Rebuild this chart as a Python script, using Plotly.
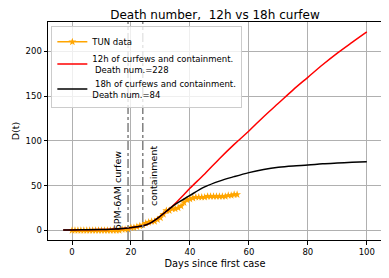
import plotly.graph_objects as go

# TUN observed deaths
tun_days = list(range(0, 57))
tun_deaths = [0]*17 + [1, 1, 1, 3, 3, 4, 5, 6, 8, 9, 10, 10, 12, 14, 18, 22, 22, 24, 24,
                       25, 27, 31, 34, 35, 36, 37, 37, 37, 37, 38, 38, 38, 38, 38, 38, 38,
                       39, 39, 40, 40]

# model curves
model_days = [-3, 0, 5, 10, 15, 19, 22, 25, 27, 30, 33, 35, 38, 40, 45, 50, 55, 60,
              65, 70, 75, 80, 85, 90, 95, 100]
d12 = [0.3, 0.4, 0.6, 0.9, 1.5, 2.5, 4, 6, 9, 16, 24, 30, 40, 47, 63, 80, 96, 111,
       127, 142, 157, 171, 185, 198, 210, 221.7]
d18 = [0.3, 0.4, 0.6, 0.9, 1.5, 2.5, 4, 6, 9, 16, 24, 29, 35, 39, 48.5, 55, 60, 64.5,
       68, 70.5, 72, 73, 74.3, 75.2, 76, 76.6]

curfew_day = 19
containment_day = 24

x_ticks = [0, 20, 40, 60, 80, 100]
y_ticks = [0, 50, 100, 150, 200]

font = "DejaVu Sans"
fig = go.Figure()
fig.add_trace(go.Scatter(x=tun_days, y=tun_deaths, mode="lines+markers", name="TUN data",
                         line=dict(color="orange", width=1.5),
                         marker=dict(symbol="star", size=6, color="orange")))
fig.add_trace(go.Scatter(x=model_days, y=d12, mode="lines", line_shape="spline",
                         name="12h of curfews and containment.<br>\u00a0Death num.=228",
                         line=dict(color="red", width=1.5)))
fig.add_trace(go.Scatter(x=model_days, y=d18, mode="lines", line_shape="spline",
                         name="\u00a018h of curfews and containment.<br>Death num.=84",
                         line=dict(color="black", width=1.5)))

for xv in [curfew_day, containment_day]:
    fig.add_shape(type="line", x0=xv, x1=xv, y0=0, y1=1, xref="x", yref="paper",
                  line=dict(color="gray", width=1.5, dash="dashdot"))

fig.add_annotation(x=15.3, y=-2.5, text="6PM-6AM curfew", textangle=-90, showarrow=False,
                   xanchor="center", yanchor="bottom", font=dict(size=9.5, color="black", family=font))
fig.add_annotation(x=27.8, y=25, text="containment", textangle=-90, showarrow=False,
                   xanchor="center", yanchor="bottom", font=dict(size=9.5, color="black", family=font))

axis_common = dict(showgrid=True, gridcolor="#b0b0b0", gridwidth=1, zeroline=False,
                   showline=True, linecolor="black", linewidth=1, mirror=True,
                   ticks="outside", ticklen=3.5, tickcolor="black", automargin=False,
                   tickfont=dict(size=8.5, color="black", family=font))
fig.update_xaxes(range=[-8.15, 105.15], tickvals=x_ticks,
                 title=dict(text="Days since first case", font=dict(size=9.8, family=font, color="black"), standoff=4),
                 **axis_common)
fig.update_yaxes(range=[-10.8, 232.8], tickvals=y_ticks,
                 title=dict(text="D(t)", font=dict(size=9.5, family=font, color="black"), standoff=4),
                 **axis_common)

# page body has an 8px default margin; compensate so the plot area lands where the reference has it
fig.update_layout(
    width=381, height=270,
    margin=dict(l=40, r=7, t=14, b=38, autoexpand=False),
    paper_bgcolor="white", plot_bgcolor="white",
    title=dict(text="Death number,  12h vs 18h curfew", x=0.5, xref="paper", xanchor="center",
               y=1, yref="paper", yanchor="bottom", pad=dict(b=3),
               font=dict(size=12, family=font, color="black")),
    legend=dict(x=0.01, y=0.98, xanchor="left", yanchor="top", bgcolor="rgba(255,255,255,0.8)",
                bordercolor="#cccccc", borderwidth=1, font=dict(size=8.5, family=font, color="black"),
                tracegroupgap=2, itemwidth=30),
    showlegend=True,
)

fig.write_html("out.html")
